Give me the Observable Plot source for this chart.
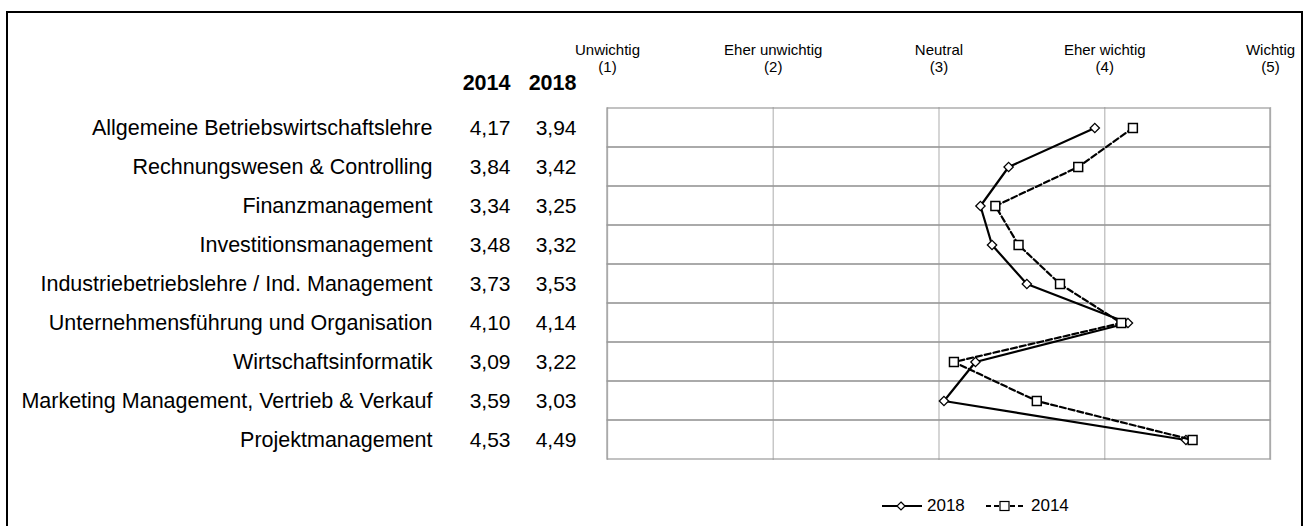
<!DOCTYPE html>
<html>
<head>
<meta charset="utf-8">
<script src="https://cdn.jsdelivr.net/npm/d3@7"></script>
<script src="https://cdn.jsdelivr.net/npm/@observablehq/plot@0.6"></script>
<style>
  html, body { margin: 0; padding: 0; background: #fff; }
  body { width: 1304px; height: 526px; position: relative; overflow: hidden; font-family: "Liberation Sans", Arial, sans-serif; }
  #border { position: absolute; left: 6px; top: 11px; width: 1297px; height: 530px; border: 2px solid #000; box-sizing: border-box; }
  #chart { position: absolute; left: 0; top: 0; }
  #legend { position: absolute; left: 0; top: 495px; width: 1304px; height: 22px; }
  #legend .item { position: absolute; top: 0; height: 22px; display: flex; align-items: center; font-size: 17px; color: #000; }
</style>
</head>
<body>
<div id="border"></div>
<div id="chart"></div>
<div id="legend"></div>
<script>
const categories = [
  "Allgemeine Betriebswirtschaftslehre",
  "Rechnungswesen & Controlling",
  "Finanzmanagement",
  "Investitionsmanagement",
  "Industriebetriebslehre / Ind. Management",
  "Unternehmensführung und Organisation",
  "Wirtschaftsinformatik",
  "Marketing Management, Vertrieb & Verkauf",
  "Projektmanagement"
];
const values2014 = [4.17, 3.84, 3.34, 3.48, 3.73, 4.10, 3.09, 3.59, 4.53];
const values2018 = [3.94, 3.42, 3.25, 3.32, 3.53, 4.14, 3.22, 3.03, 4.49];
const scaleTicks = [1, 2, 3, 4, 5];
const scaleLabels = ["Unwichtig", "Eher unwichtig", "Neutral", "Eher wichtig", "Wichtig"];
const seriesNames = ["2014", "2018"];

const rows = categories.map((c, i) => ({cat: c, v2014: values2014[i], v2018: values2018[i]}));
const fmt = v => d3.format(".2f")(v).replace(".", ",");
const tickRows = scaleTicks.map((t, i) => ({t, label: `${scaleLabels[i]}\n(${t})`}));

const chart = Plot.plot({
  width: 1304,
  height: 480,
  marginLeft: 607,
  marginRight: 34,
  marginTop: 107,
  marginBottom: 20,
  style: {fontFamily: "'Liberation Sans', Arial, sans-serif", background: "transparent", overflow: "visible"},
  x: {domain: [1, 5], axis: null},
  y: {type: "band", domain: categories, padding: 0, axis: null},
  marks: [
    Plot.ruleX(scaleTicks, {x: d => d, stroke: "#c4c4c4", strokeWidth: 1.4}),
    Plot.cell(categories, {y: d => d, fill: "none", stroke: "#9a9a9a", strokeWidth: 1.2}),
    Plot.text(tickRows, {x: "t", text: "label", frameAnchor: "top", dy: -36, lineAnchor: "bottom", lineHeight: 1.12, fontSize: 15, fill: "#000"}),
    Plot.text(rows, {y: "cat", text: "cat", frameAnchor: "left", dx: -175, textAnchor: "end", fontSize: 21.5, fill: "#000"}),
    Plot.text(rows, {y: "cat", text: d => fmt(d.v2014), frameAnchor: "left", dx: -97, textAnchor: "end", fontSize: 21, fill: "#000"}),
    Plot.text(rows, {y: "cat", text: d => fmt(d.v2018), frameAnchor: "left", dx: -31, textAnchor: "end", fontSize: 21, fill: "#000"}),
    Plot.text([seriesNames[0]], {text: d => d, frameAnchor: "top-left", dx: -97, dy: -24, textAnchor: "end", lineAnchor: "middle", fontSize: 21.5, fontWeight: "bold", fill: "#000"}),
    Plot.text([seriesNames[1]], {text: d => d, frameAnchor: "top-left", dx: -31, dy: -24, textAnchor: "end", lineAnchor: "middle", fontSize: 21.5, fontWeight: "bold", fill: "#000"}),
    Plot.line(rows, {x: "v2018", y: "cat", stroke: "#000", strokeWidth: 2.2}),
    Plot.dot(rows, {x: "v2018", y: "cat", symbol: "diamond2", r: 4.2, fill: "#fff", stroke: "#000", strokeWidth: 1.3}),
    Plot.line(rows, {x: "v2014", y: "cat", stroke: "#000", strokeWidth: 2.2, strokeDasharray: "6,3"}),
    Plot.dot(rows, {x: "v2014", y: "cat", symbol: "square", r: 5, fill: "#fff", stroke: "#000", strokeWidth: 1.5})
  ]
});
document.getElementById("chart").appendChild(chart);

// Legend
const legend = document.getElementById("legend");
const items = [
  {name: seriesNames[1], left: 882, dash: null, sym: "diamond"},
  {name: seriesNames[0], left: 986, dash: "5,3", sym: "square"}
];
for (const it of items) {
  const div = document.createElement("div");
  div.className = "item";
  div.style.left = it.left + "px";
  const svg = d3.create("svg").attr("width", 40).attr("height", 22).style("margin-right", "5px");
  svg.append("line").attr("x1", 0).attr("x2", 40).attr("y1", 11).attr("y2", 11)
    .attr("stroke", "#000").attr("stroke-width", 2.2).attr("stroke-dasharray", it.dash);
  if (it.sym === "diamond") {
    svg.append("path").attr("d", "M19,7L23,11L19,15L15,11Z").attr("fill", "#fff").attr("stroke", "#000").attr("stroke-width", 1.2);
  } else {
    svg.append("rect").attr("x", 14).attr("y", 6.5).attr("width", 9).attr("height", 9).attr("fill", "#fff").attr("stroke", "#000").attr("stroke-width", 1.2);
  }
  div.appendChild(svg.node());
  const span = document.createElement("span");
  span.textContent = it.name;
  div.appendChild(span);
  legend.appendChild(div);
}
</script>
</body>
</html>
